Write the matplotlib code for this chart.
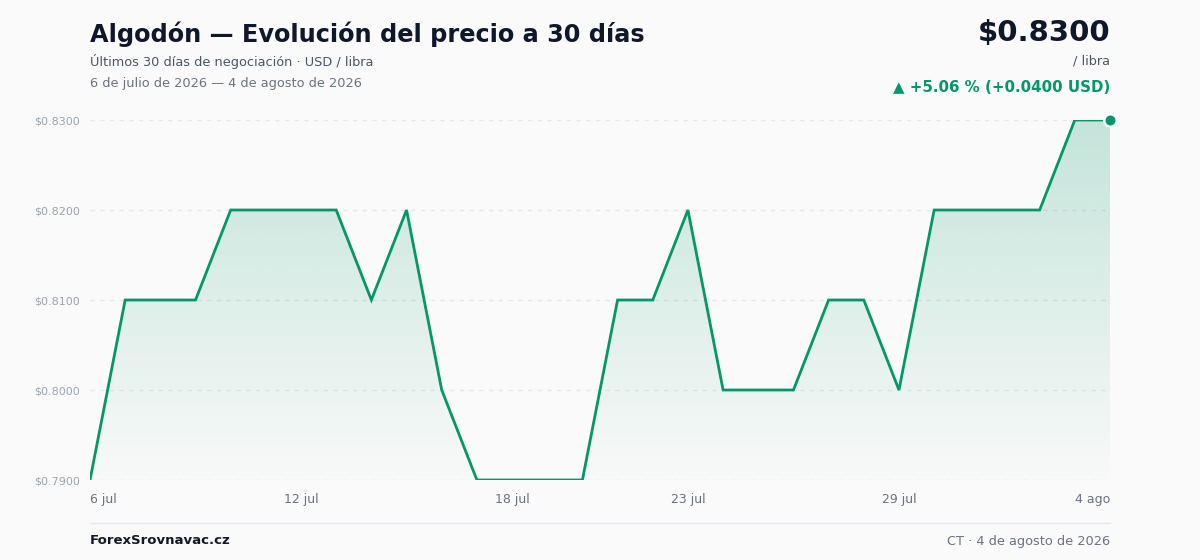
import matplotlib
matplotlib.use("Agg")
import matplotlib.pyplot as plt
import numpy as np
from matplotlib.patches import Polygon
from matplotlib.colors import to_rgb

days = ["6 jul", "7 jul", "8 jul", "9 jul", "10 jul", "11 jul", "12 jul", "13 jul",
        "14 jul", "15 jul", "16 jul", "17 jul", "18 jul", "19 jul", "20 jul", "21 jul",
        "22 jul", "23 jul", "24 jul", "25 jul", "26 jul", "27 jul", "28 jul", "29 jul",
        "30 jul", "31 jul", "1 ago", "2 ago", "3 ago", "4 ago"]
prices = [0.79, 0.81, 0.81, 0.81, 0.82, 0.82, 0.82, 0.82, 0.81, 0.82,
          0.80, 0.79, 0.79, 0.79, 0.79, 0.81, 0.81, 0.82, 0.80, 0.80,
          0.80, 0.81, 0.81, 0.80, 0.82, 0.82, 0.82, 0.82, 0.83, 0.83]
yticks = [0.79, 0.80, 0.81, 0.82, 0.83]
xtick_idx = [0, 6, 12, 17, 23, 29]

GREEN = "#059669"
BG = "#fafafa"

plt.rcParams['font.family'] = ['DejaVu Sans']
fig = plt.figure(figsize=(12, 5.6), dpi=100, facecolor=BG)
ax = fig.add_axes([90/1200, 80/560, 1020/1200, 360/560])
ax.set_facecolor(BG)

x = np.arange(len(prices))
y = np.array(prices)
ymin, ymax = 0.79, 0.83
ax.set_xlim(0, len(prices) - 1)
ax.set_ylim(ymin, ymax)

# gradient fill
rgb = to_rgb(GREEN)
grad = np.zeros((256, 2, 4))
grad[..., 0], grad[..., 1], grad[..., 2] = rgb
alphas = np.linspace(0.22, 0.01, 256)[:, None]
grad[..., 3] = alphas
img = ax.imshow(grad, extent=[0, len(prices) - 1, ymin, ymax], origin='upper',
                aspect='auto', zorder=1, interpolation='bilinear')
verts = np.vstack([np.column_stack([x, y]), [[x[-1], ymin], [x[0], ymin]]])
poly = Polygon(verts, closed=True, facecolor='none', edgecolor='none')
ax.add_patch(poly)
img.set_clip_path(poly)

for t in yticks:
    ax.axhline(t, color="#e5e7eb", lw=1, ls=(0, (3, 4)), zorder=0.5)

ax.plot(x, y, color=GREEN, lw=2, zorder=3, solid_joinstyle='miter')
ax.plot([x[-1]], [y[-1]], 'o', ms=9, color=GREEN, mec='white', mew=1.8,
        zorder=4, clip_on=False)

for s in ax.spines.values():
    s.set_visible(False)
ax.set_yticks(yticks)
ax.set_yticklabels([f"${v:.4f}" for v in yticks], color="#9ca3af", fontsize=8)
ax.tick_params(axis='y', length=0, pad=7)
ax.set_xticks(xtick_idx)
ax.set_xticklabels([days[i] for i in xtick_idx], color="#6b7280", fontsize=9)
ax.tick_params(axis='x', length=0, pad=9)
labs = ax.get_xticklabels()
labs[0].set_ha('left')
labs[-1].set_ha('right')

# header
fig.text(90/1200, 1 - 34/560, "Algodón — Evolución del precio a 30 días",
         fontsize=17.3, fontweight='bold', color="#0f172a", va='center', ha='left')
fig.text(90/1200, 1 - 61/560, "Últimos 30 días de negociación · USD / libra",
         fontsize=9.3, color="#4b5563", va='center', ha='left')
fig.text(90/1200, 1 - 83/560, "6 de julio de 2026 — 4 de agosto de 2026",
         fontsize=9.3, color="#6b7280", va='center', ha='left')
fig.text(1110/1200, 1 - 33/560, f"${prices[-1]:.4f}",
         fontsize=21, fontweight='bold', color="#0f172a", va='center', ha='right')
fig.text(1110/1200, 1 - 61/560, "/ libra",
         fontsize=9.3, color="#4b5563", va='center', ha='right')
chg = prices[-1] - prices[0]
pct = chg / prices[0] * 100
fig.text(1110/1200, 1 - 87/560, f"▲ +{pct:.2f} % (+{chg:.4f} USD)",
         fontsize=10.8, fontweight='bold', color=GREEN, va='center', ha='right')

# footer
fig.add_artist(plt.Line2D([90/1200, 1110/1200], [1 - 523/560, 1 - 523/560],
                          color="#e5e7eb", lw=1))
fig.text(90/1200, 1 - 541/560, "ForexSrovnavac.cz", fontsize=9.5, fontweight='bold',
         color="#111827", va='center', ha='left')
fig.text(1110/1200, 1 - 541/560, "CT · 4 de agosto de 2026", fontsize=9.3,
         color="#6b7280", va='center', ha='right')

fig.savefig("out.png", dpi=100, facecolor=BG)
